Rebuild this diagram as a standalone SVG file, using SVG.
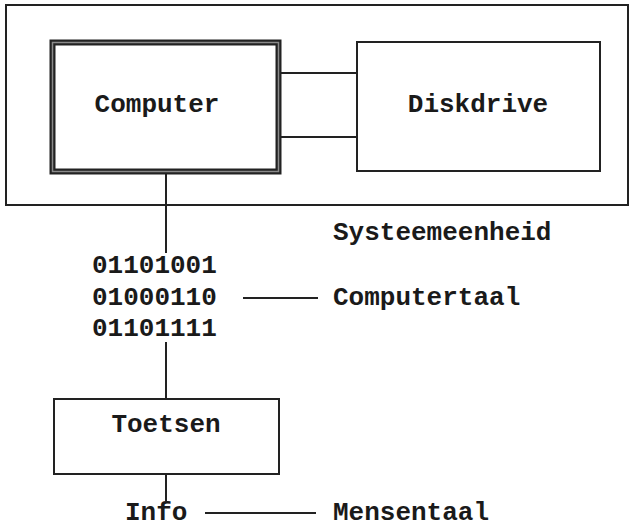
<svg xmlns="http://www.w3.org/2000/svg" width="632" height="530" viewBox="0 0 632 530">
<style>
.t{font-family:"Liberation Mono","Courier New",monospace;font-size:26px;font-weight:bold;fill:#1a1a1a}
.b{fill:none;stroke:#222;stroke-width:2}
.c{fill:none;stroke:#222;stroke-width:2}
</style>
<rect width="632" height="530" fill="#fff"/>
<g id="systeemeenheid">
<rect class="b" x="6" y="5" width="622" height="200"/>
<text class="t" x="333" y="240">Systeemeenheid</text>
</g>
<g id="computer">
<rect x="52.5" y="42.5" width="226" height="129" fill="none" stroke="#222" stroke-width="6"/>
<rect x="52.5" y="42.5" width="226" height="129" fill="none" stroke="#8a8a8a" stroke-width="1.5"/>
<text class="t" x="157" y="112" text-anchor="middle">Computer</text>
</g>
<g id="diskdrive">
<rect class="b" x="357" y="42" width="243" height="129"/>
<text class="t" x="478" y="112" text-anchor="middle">Diskdrive</text>
</g>
<g id="computertaal">
<text class="t" x="92" y="273">01101001</text>
<text class="t" x="92" y="305">01000110</text>
<text class="t" x="92" y="336">01101111</text>
<text class="t" x="333" y="305">Computertaal</text>
</g>
<g id="toetsen">
<rect class="b" x="54" y="399" width="225" height="75"/>
<text class="t" x="166" y="432" text-anchor="middle">Toetsen</text>
</g>
<g id="mensentaal">
<text class="t" x="125" y="520">Info</text>
<text class="t" x="333" y="520">Mensentaal</text>
</g>
<g id="connectors">
<line class="c" x1="281" y1="73" x2="357" y2="73"/>
<line class="c" x1="281" y1="137" x2="357" y2="137"/>
<line class="c" x1="166" y1="174" x2="166" y2="253"/>
<line class="c" x1="166" y1="342" x2="166" y2="399"/>
<line class="c" x1="166" y1="474" x2="166" y2="502"/>
<line class="c" x1="243" y1="298" x2="318" y2="298"/>
<line class="c" x1="205" y1="513" x2="316" y2="513"/>
</g>
</svg>
